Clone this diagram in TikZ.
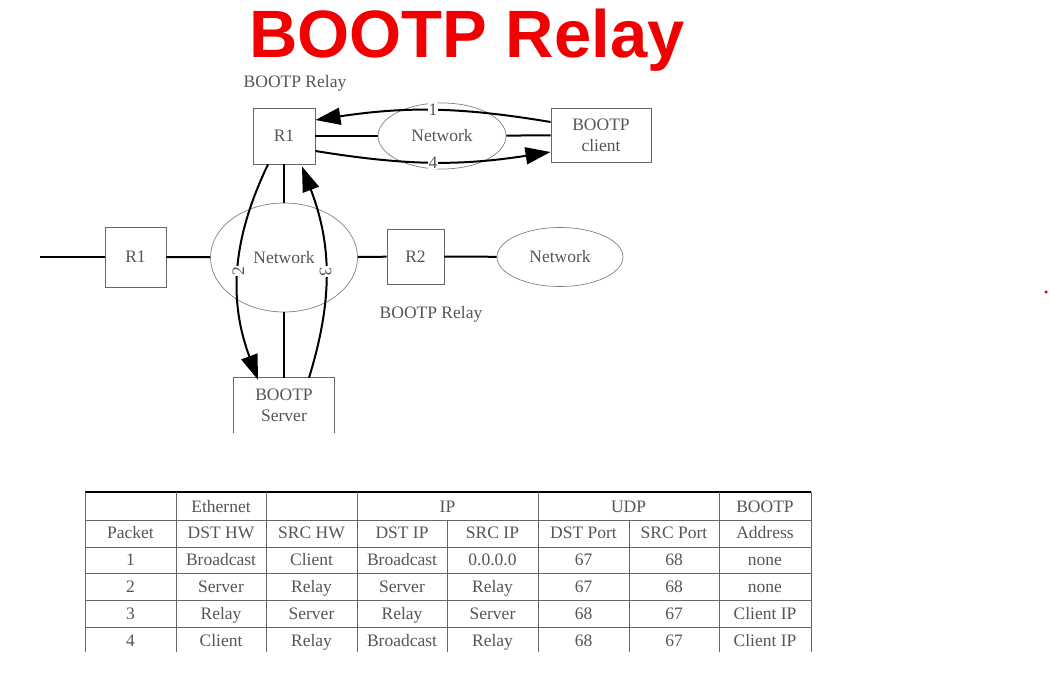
\documentclass[tikz,border=0pt]{standalone}
\usepackage{fontspec}
\setmainfont{Liberation Serif}
\newfontfamily\titlefont{Liberation Sans}
\usetikzlibrary{shapes.geometric,arrows.meta}
\definecolor{txtgray}{HTML}{555555}
\definecolor{boxgray}{HTML}{666666}
\definecolor{titlered}{HTML}{F00000}
\begin{document}
\begin{tikzpicture}[x=1pt,y=-1pt,
  lbl/.style={text=txtgray,font=\fontsize{17.5}{21}\selectfont},
  box/.style={draw=boxgray,line width=0.9pt,lbl,inner sep=0pt,align=center},
  net/.style={ellipse,draw=gray,line width=0.7pt,lbl,inner sep=0pt},
  link/.style={line width=2pt},
  arr/.style={link,-{Triangle[length=25pt,width=17pt]}},
  num/.style={lbl,fill=white,inner sep=1pt},
  grid/.style={draw=boxgray,line width=0.9pt},
  cell/.style={lbl,anchor=base}]
\useasboundingbox (0,0) rectangle (1050,676);
% title
\node[font=\titlefont\bfseries\fontsize{67}{67}\selectfont,text=titlered,anchor=base] (title) at (467,58) {BOOTP Relay};
% labels
\node[lbl,anchor=base] (relaytop) at (295,88) {BOOTP Relay};
\node[lbl,anchor=base] (relaybot) at (431,319) {BOOTP Relay};
% nodes
\node[box,minimum width=62,minimum height=56] (r1t) at (284,136) {R1};
\node[net,minimum width=128,minimum height=66] (nett) at (442,136) {Network};
\node[box,minimum width=100,minimum height=54] (client) at (601,135) {BOOTP\\client};
\node[box,minimum width=61,minimum height=60] (r1l) at (135.5,257) {R1};
\node[net,minimum width=147,minimum height=109] (netm) at (284,257.5) {Network};
\node[box,minimum width=57,minimum height=55] (r2) at (415.5,256.5) {R2};
\node[net,minimum width=126,minimum height=59] (netr) at (560,257) {Network};
\node[lbl,minimum width=101,minimum height=55,inner sep=0pt,align=center] (server) at (284,405.5) {BOOTP\\Server};
\draw[draw=boxgray,line width=0.9pt] (server.south west) -- (server.north west) -- (server.north east) -- (server.south east);
\coordinate (lend) at (40,257);
% links
\draw[link] (lend) -- (r1l);
\draw[link] (r1l) -- (netm);
\draw[link] (netm) -- (r2);
\draw[link] (r2) -- (netr);
\draw[link] (r1t) -- (nett);
\draw[link] (nett) -- (client);
\draw[link] (r1t.south) -- (netm.north);
\draw[link] (netm.south) -- (server.north);
% arrows
\draw[arr] ([yshift=13]client.west) to[bend right=9] node[num]{1} ([yshift=16]r1t.east);
\draw[arr] ([yshift=-15]r1t.east) to[bend right=9] node[num]{4} ([yshift=-17]client.west);
\draw[arr] ([xshift=-16]r1t.south) to[bend right=23] node[num,rotate=90]{2} ([xshift=-26,yshift=-2]server.north);
\draw[arr] ([xshift=25]server.north) to[bend right=19] node[num,rotate=-90]{3} ([xshift=18,yshift=-2]r1t.south);
% table
\draw[line width=2pt] (85,492) -- (811,492);
\foreach \y in {520,547,573,600,627} \draw[grid] (85,\y) -- (811,\y);
\foreach \x in {85,176,266,357,538,719,811} \draw[grid] (\x,492) -- (\x,652);
\foreach \x in {447,629} \draw[grid] (\x,520) -- (\x,652);
\node[cell] (hEth) at (221,512) {Ethernet};
\node[cell] (hIP) at (447.5,512) {IP};
\node[cell] (hUDP) at (628.5,512) {UDP};
\node[cell] (hBOOTP) at (765,512) {BOOTP};
\foreach \r [count=\i] in {{Packet,DST HW,SRC HW,DST IP,SRC IP,DST Port,SRC Port,Address},
  {1,Broadcast,Client,Broadcast,0.0.0.0,67,68,none},
  {2,Server,Relay,Server,Relay,67,68,none},
  {3,Relay,Server,Relay,Server,68,67,Client IP},
  {4,Client,Relay,Broadcast,Relay,68,67,Client IP}}{
  \foreach \c [count=\j] in \r {
    \pgfmathsetmacro{\cx}{{130.5,221,311.5,402,492.5,583.5,674,765}[\j-1]}
    \node[cell] (c\i-\j) at (\cx,{538.5+26.9*(\i-1)}) {\c};
  }
}
\node[circle,fill=titlered,inner sep=0pt,minimum size=3.5] (dot) at (1046,292) {};
\end{tikzpicture}
\end{document}
